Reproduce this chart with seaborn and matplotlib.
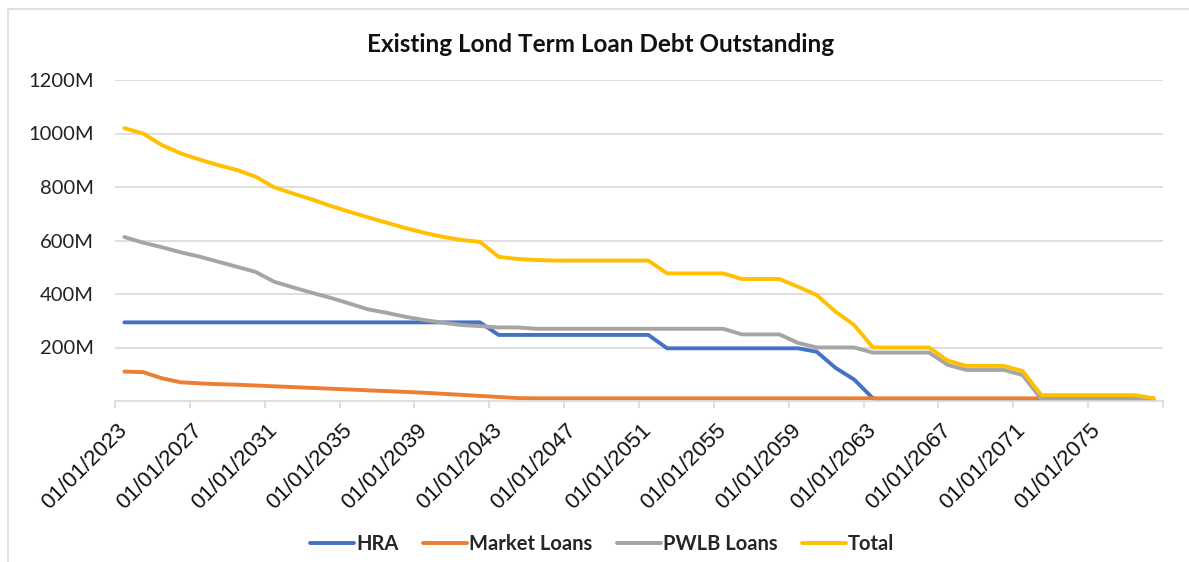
"""Existing long term loan debt outstanding - line chart recreation."""

import matplotlib
matplotlib.use("Agg")
import matplotlib.pyplot as plt
from matplotlib.lines import Line2D
from matplotlib.ticker import FixedLocator, FuncFormatter
import pandas as pd
import seaborn as sns

# Data (values in millions), one point per year from 2023 to 2078
years = list(range(2023, 2079))
hra = [
    294, 294, 294, 294, 294, 294, 294, 294, 294, 294,
    294, 294, 294, 294, 294, 294, 294, 294, 294, 294,
    247, 247, 247, 247, 247, 247, 247, 247, 247, 197,
    197, 197, 197, 197, 197, 197, 197, 184, 124, 80,
    10, 0, 0, 0, 0, 0, 0, 0, 0, 0,
    0, 0, 0, 0, 0, 0,
]
market_loans = [
    110, 108, 85, 70, 66, 63, 61, 58, 55, 52,
    49, 46, 43, 40, 37, 34, 31, 27, 23, 19,
    15, 11, 10, 10, 10, 10, 10, 10, 10, 10,
    10, 10, 10, 10, 10, 10, 10, 10, 10, 10,
    10, 10, 10, 10, 10, 10, 10, 10, 10, 10,
    10, 10, 10, 10, 10, 10,
]
pwlb_loans = [
    613, 592, 575, 556, 540, 521, 502, 483, 446, 425,
    405, 386, 365, 343, 330, 315, 303, 293, 284, 280,
    275, 275, 270, 270, 270, 270, 270, 270, 270, 270,
    270, 270, 270, 249, 249, 249, 217, 200, 200, 200,
    181, 181, 181, 181, 135, 116, 116, 116, 97, 7,
    7, 7, 7, 7, 7, 4,
]
total = [
    1020, 1000, 957, 926, 903, 882, 864, 839, 799, 776,
    754, 730, 708, 687, 667, 647, 629, 614, 602, 595,
    539, 531, 527, 525, 525, 525, 525, 525, 525, 477,
    477, 477, 477, 456, 456, 456, 427, 396, 334, 284,
    200, 200, 200, 200, 151, 131, 131, 131, 112, 22,
    22, 22, 22, 22, 22, 10,
]
series_names = ["HRA", "Market Loans", "PWLB Loans", "Total"]
colors = ["#4472C4", "#ED7D31", "#A5A5A5", "#FFC000"]
date_labels = [f"01/01/{y}" for y in years]

# Long format table for seaborn
idx = list(range(len(years)))
df = pd.concat(
    [
        pd.DataFrame({"idx": idx, "value": vals, "series": name})
        for name, vals in zip(series_names, [hra, market_loans, pwlb_loans, total])
    ],
    ignore_index=True,
)

sns.set_style("white")
plt.rcParams["font.family"] = ["Lato", "DejaVu Sans"]

fig = plt.figure(figsize=(11.89, 5.62), dpi=100)
ax = fig.add_axes([115 / 1189, 1 - 401 / 562, (1163 - 115) / 1189, (401 - 80) / 562])

sns.lineplot(
    data=df, x="idx", y="value", hue="series", hue_order=series_names,
    palette=colors, linewidth=2.8, ax=ax, legend=False,
)
for line in ax.lines:
    line.set_solid_capstyle("round")
    line.set_solid_joinstyle("round")

# Axes styling
ax.set_xlim(-0.5, len(years) - 0.5)
ax.set_ylim(0, 1200)
ax.set_yticks(range(200, 1201, 200))
ax.yaxis.set_major_formatter(FuncFormatter(lambda v, _: f"{int(v)}M"))
ax.grid(axis="y", color="#d9d9d9", linewidth=1.2)
ax.set_axisbelow(True)
for side in ["left", "right", "top"]:
    ax.spines[side].set_visible(False)
ax.spines["bottom"].set_color("#d9d9d9")
ax.spines["bottom"].set_linewidth(1.2)

ax.set_xticks(idx[::4])
ax.set_xticklabels(date_labels[::4], rotation=45, ha="right", va="center",
                   rotation_mode="anchor", fontsize=16, family="Liberation Sans",
                   color="#111111")
ax.xaxis.set_minor_locator(FixedLocator([i - 0.5 for i in range(0, len(years) + 1, 4)]))
ax.tick_params(axis="x", which="major", length=0, pad=19)
ax.tick_params(axis="x", which="minor", length=5, width=1.2, color="#d9d9d9", bottom=True)
ax.tick_params(axis="y", length=0, pad=15, labelsize=14.5, labelcolor="#222222")
ax.set_xlabel("")
ax.set_ylabel("")

fig.suptitle("Existing Lond Term Loan Debt Outstanding", x=0.505, y=1 - 44 / 562,
             va="center", fontsize=17.5, fontweight="bold", color="#111111")

handles = [Line2D([], [], color=c, linewidth=2.8, solid_capstyle="round") for c in colors]
fig.legend(handles, series_names, loc="center", bbox_to_anchor=(0.5065, 1 - 544 / 562),
           ncol=4, frameon=False, handlelength=2.2, handletextpad=0.1,
           columnspacing=1.2, prop={"family": "Lato", "weight": "bold", "size": 14.5})

# Chart area border (left and top edges visible)
fig.add_artist(Line2D([8 / 1189, 8 / 1189], [0, 1 - 9 / 562], color="#d9d9d9", linewidth=1.2))
fig.add_artist(Line2D([8 / 1189, 1], [1 - 9 / 562, 1 - 9 / 562], color="#d9d9d9", linewidth=1.2))

fig.savefig("out.png", dpi=100)
